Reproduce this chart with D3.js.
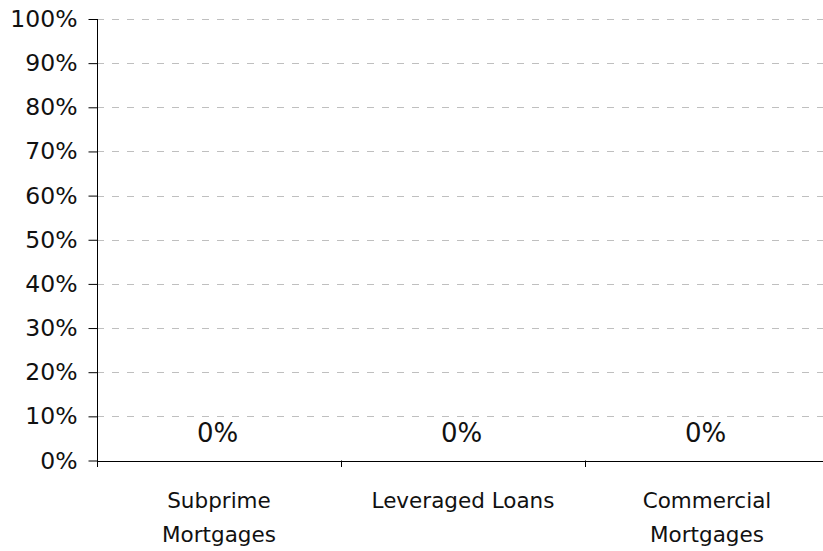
<!DOCTYPE html>
<html>
<head>
<meta charset="utf-8">
<script src="https://cdn.jsdelivr.net/npm/d3@7"></script>
<style>
  html, body { margin: 0; padding: 0; background: #fff; }
  svg { display: block; font-family: "DejaVu Sans", Verdana, sans-serif; }
</style>
</head>
<body>
<svg id="chart" width="823" height="551"></svg>
<script>
// Share of losses by asset class
const categories = ["Subprime Mortgages", "Leveraged Loans", "Commercial Mortgages"];
const categoryLines = [["Subprime", "Mortgages"], ["Leveraged Loans"], ["Commercial", "Mortgages"]];
const values = [0, 0, 0];
const yTicks = [0, 0.1, 0.2, 0.3, 0.4, 0.5, 0.6, 0.7, 0.8, 0.9, 1.0];

const svg = d3.select("#chart");
const plotLeft = 97, plotRight = 829, plotTop = 19, plotBottom = 460.5;

const x = d3.scaleBand().domain(categories).range([plotLeft, plotRight]).padding(0);
const y = d3.scaleLinear().domain([0, 1]).range([plotBottom, plotTop]);
const pct = d3.format(".0%");

// dashed horizontal gridlines
svg.append("g")
  .selectAll("line")
  .data(yTicks.filter(d => d > 0))
  .join("line")
  .attr("x1", plotLeft).attr("x2", plotRight)
  .attr("y1", d => Math.round(y(d)) + 0.5)
  .attr("y2", d => Math.round(y(d)) + 0.5)
  .attr("stroke", "#bfbfbf")
  .attr("stroke-width", 1)
  .attr("stroke-dasharray", "7,8");

// bars (zero height for all categories)
svg.append("g")
  .selectAll("rect")
  .data(values)
  .join("rect")
  .attr("x", (d, i) => x(categories[i]) + x.bandwidth() * 0.2)
  .attr("width", x.bandwidth() * 0.6)
  .attr("y", d => y(d))
  .attr("height", d => y(0) - y(d))
  .attr("fill", "#4f6fa8");

// y axis
const yAxis = d3.axisLeft(y)
  .tickValues(yTicks)
  .tickFormat(pct)
  .tickSize(9)
  .tickPadding(11);
const gy = svg.append("g")
  .attr("transform", `translate(${plotLeft + 0.5},0)`)
  .call(yAxis);
gy.select(".domain").remove();
gy.append("line")
  .attr("x1", 0).attr("x2", 0)
  .attr("y1", plotTop).attr("y2", plotBottom + 6.5)
  .attr("stroke", "#000");
gy.selectAll(".tick line").attr("stroke", "#000");
gy.selectAll(".tick text")
  .attr("fill", "#111")
  .style("font-size", "23.5px")
  .style("font-family", '"DejaVu Sans", Verdana, sans-serif');

// x axis baseline with ticks at category boundaries
const gx = svg.append("g");
gx.append("line")
  .attr("x1", plotLeft).attr("x2", plotRight)
  .attr("y1", Math.round(y(0)) + 0.5).attr("y2", Math.round(y(0)) + 0.5)
  .attr("stroke", "#000");
gx.selectAll("line.sep")
  .data(categories.slice(1))
  .join("line")
  .attr("class", "sep")
  .attr("x1", d => Math.round(x(d)) + 0.5)
  .attr("x2", d => Math.round(x(d)) + 0.5)
  .attr("y1", y(0)).attr("y2", y(0) + 6.5)
  .attr("stroke", "#000");

// category labels
gx.selectAll("text.cat")
  .data(categories)
  .join("text")
  .attr("class", "cat")
  .attr("text-anchor", "middle")
  .attr("font-size", 21.5)
  .attr("fill", "#111")
  .each(function (d, i) {
    const t = d3.select(this);
    categoryLines[i].forEach((line, j) => {
      t.append("tspan")
        .attr("x", x(d) + x.bandwidth() / 2)
        .attr("y", 508.3 + j * 33.5)
        .text(line);
    });
  });

// value labels
svg.append("g")
  .selectAll("text")
  .data(values)
  .join("text")
  .attr("x", (d, i) => x(categories[i]) + x.bandwidth() / 2 - 1.5)
  .attr("y", d => y(d) - 19)
  .attr("text-anchor", "middle")
  .attr("font-size", 26)
  .attr("fill", "#111")
  .text(d => pct(d));
</script>
</body>
</html>
